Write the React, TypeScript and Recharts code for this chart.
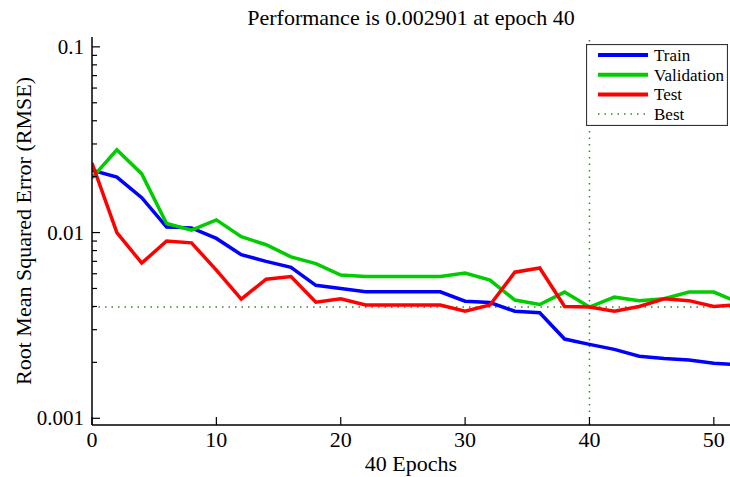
import React from "react";
import { LineChart, Line, XAxis, YAxis, ReferenceLine } from "recharts";

const epochs = [0, 2, 4, 6, 8, 10, 12, 14, 16, 18, 20, 22, 24, 26, 28, 30, 32, 34, 36, 38, 40, 42, 44, 46, 48, 50, 52];
const train = [0.0217, 0.0199, 0.0154, 0.0107, 0.0106, 0.0093, 0.0076, 0.0070, 0.0065, 0.0052, 0.0050, 0.0048, 0.0048, 0.0048, 0.0048, 0.00427, 0.0042, 0.00377, 0.0037, 0.00267, 0.0025, 0.00235, 0.00216, 0.0021, 0.00206, 0.00198, 0.00194];
const validation = [0.0197, 0.0279, 0.0207, 0.0112, 0.0103, 0.0117, 0.0095, 0.0086, 0.0074, 0.0068, 0.0059, 0.0058, 0.0058, 0.0058, 0.0058, 0.00605, 0.00555, 0.00433, 0.0041, 0.00478, 0.00397, 0.00449, 0.0043, 0.0044, 0.00478, 0.00478, 0.0042];
const test = [0.0237, 0.0100, 0.00685, 0.0090, 0.0088, 0.00628, 0.00438, 0.00561, 0.0058, 0.00422, 0.0044, 0.00407, 0.00407, 0.00407, 0.00407, 0.00377, 0.00407, 0.00612, 0.00645, 0.0040, 0.00397, 0.00377, 0.0040, 0.0044, 0.0043, 0.0040, 0.0041];

const bestEpoch = 40;
const bestValue = 0.00397;

const xTicks = [0, 10, 20, 30, 40, 50];
const yTicks = [
  0.001, 0.002, 0.003, 0.004, 0.005, 0.006, 0.007, 0.008, 0.009,
  0.01, 0.02, 0.03, 0.04, 0.05, 0.06, 0.07, 0.08, 0.09, 0.1,
];

const seriesNames = ["Train", "Validation", "Test", "Best"];
const seriesColors = ["#0000ff", "#00cc00", "#ff0000", "#2e8b2e"];

const data = epochs.map((e, i) => ({
  epoch: e,
  train: train[i],
  validation: validation[i],
  test: test[i],
}));

const FONT = "'Liberation Serif', 'Times New Roman', serif";

const isDecade = (v: number) => Math.abs(Math.log10(v) - Math.round(Math.log10(v))) < 1e-6;

const YTick = (props: any) => {
  const { x, y, payload } = props;
  const major = isDecade(payload.value);
  return (
    <g>
      <line x1={x} x2={x + (major ? 8 : 5)} y1={y} y2={y} stroke="#000" strokeWidth={1.2} />
      {major && (
        <text x={x - 8} y={y} dy={7} textAnchor="end" fontSize={21} fontFamily={FONT} fill="#000">
          {String(payload.value)}
        </text>
      )}
    </g>
  );
};

const XTick = (props: any) => {
  const { x, y, payload } = props;
  return (
    <g>
      <line x1={x} x2={x} y1={y} y2={y - 8} stroke="#000" strokeWidth={1.2} />
      <text x={x} y={y + 22} textAnchor="middle" fontSize={22} fontFamily={FONT} fill="#000">
        {payload.value}
      </text>
    </g>
  );
};

const Legend = () => (
  <svg width={142} height={82} style={{ position: "absolute", left: 586, top: 44 }}>
    <rect x={0.5} y={0.5} width={141} height={81} fill="#fff" stroke="#333" strokeWidth={1.2} />
    {seriesNames.map((name, i) => {
      const cy = 11 + i * 19.7;
      const best = name === "Best";
      return (
        <g key={name}>
          <line
            x1={12}
            x2={62}
            y1={cy}
            y2={cy}
            stroke={seriesColors[i]}
            strokeWidth={best ? 1.5 : 4}
            strokeDasharray={best ? "1.5 5" : undefined}
          />
          <text x={68} y={cy + 6} fontSize={17} fontFamily={FONT} fill="#000">
            {name}
          </text>
        </g>
      );
    })}
  </svg>
);

export default function App() {
  return (
    <div style={{ position: "absolute", left: 0, top: 0, width: 730, height: 477, background: "#fff" }}>
      <div
        style={{
          position: "absolute",
          left: 92,
          width: 638,
          top: 5,
          textAlign: "center",
          fontFamily: FONT,
          fontSize: 22,
          lineHeight: "26px",
          color: "#000",
        }}
      >
        Performance is 0.002901 at epoch 40
      </div>
      <LineChart width={730} height={477} data={data} margin={{ top: 37, right: 0, left: 0, bottom: 0 }}>
        <XAxis
          dataKey="epoch"
          type="number"
          domain={[0, 51.3]}
          allowDataOverflow
          ticks={xTicks}
          height={52}
          tickSize={0}
          tickMargin={0}
          tickLine={false}
          axisLine={{ stroke: "#000", strokeWidth: 1.5 }}
          tick={<XTick />}
          label={(p: any) => {
            const vb = p.viewBox;
            return (
              <text x={vb.x + vb.width / 2} y={vb.y + 46} textAnchor="middle" fontSize={22} fontFamily={FONT} fill="#000">
                40 Epochs
              </text>
            );
          }}
        />
        <YAxis
          type="number"
          scale="log"
          domain={[0.00092, 0.113]}
          allowDataOverflow
          ticks={yTicks}
          width={92}
          tickSize={0}
          tickMargin={0}
          tickLine={false}
          interval={0}
          axisLine={{ stroke: "#000", strokeWidth: 1.5 }}
          tick={<YTick />}
          label={(p: any) => {
            const vb = p.viewBox;
            const cx = 23;
            const cy = vb.y + vb.height / 2;
            return (
              <text
                x={cx}
                y={cy}
                transform={`rotate(-90, ${cx}, ${cy})`}
                textAnchor="middle"
                dominantBaseline="central"
                fontSize={22}
                fontFamily={FONT}
                fill="#000"
              >
                Root Mean Squared Error (RMSE)
              </text>
            );
          }}
        />
        <ReferenceLine y={bestValue} stroke={seriesColors[3]} strokeWidth={1.5} strokeDasharray="1.5 5" />
        <ReferenceLine x={bestEpoch} stroke={seriesColors[3]} strokeWidth={1.5} strokeDasharray="1.5 5" />
        <Line dataKey="train" stroke={seriesColors[0]} strokeWidth={3.5} dot={false} isAnimationActive={false} />
        <Line dataKey="validation" stroke={seriesColors[1]} strokeWidth={3.5} dot={false} isAnimationActive={false} />
        <Line dataKey="test" stroke={seriesColors[2]} strokeWidth={3.5} dot={false} isAnimationActive={false} />
      </LineChart>
      <Legend />
    </div>
  );
}
